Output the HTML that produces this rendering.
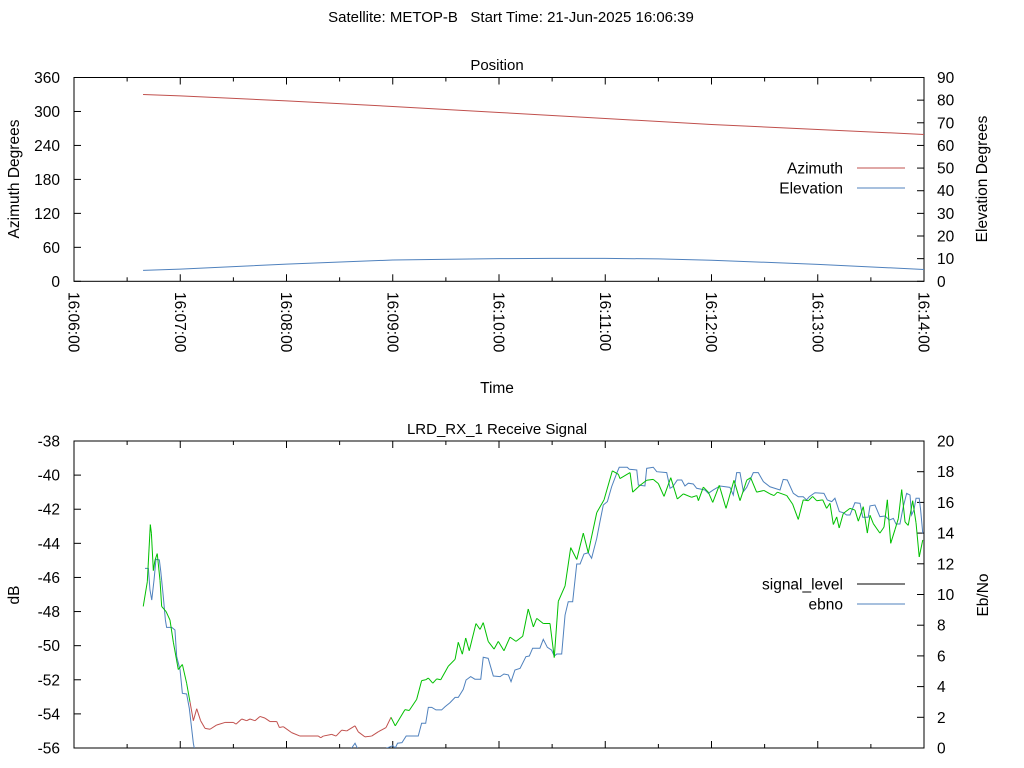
<!DOCTYPE html>
<html><head><meta charset="utf-8"><style>
html,body{margin:0;padding:0;background:#fff;}
svg{display:block;font-family:"Liberation Sans",Arial,sans-serif;}
</style></head><body>
<svg id="chart" width="1024" height="768" viewBox="0 0 1024 768" xmlns="http://www.w3.org/2000/svg">
<text x="511" y="22" font-size="15" text-anchor="middle" xml:space="preserve">Satellite: METOP-B &#160;&#160;Start Time: 21-Jun-2025 16:06:39</text>
<g id="top"></g>
<g id="bot"></g>
</svg>
<script>
// ---- Position chart data (seconds after 16:06:00) ----
const posTimes = [39, 60, 120, 180, 240, 300, 360, 420, 480];
const azimuth = [330, 327.5, 318.7, 308.8, 298.2, 287.6, 277, 268.2, 259.4];
const elevTimes = [39, 60, 120, 180, 240, 270, 300, 330, 360, 420, 480];
const elevation = [4.85, 5.4, 7.6, 9.4, 10.0, 10.1, 10.1, 9.9, 9.3, 7.5, 5.2];
const timeTickLabels = ["16:06:00","16:07:00","16:08:00","16:09:00","16:10:00","16:11:00","16:12:00","16:13:00","16:14:00"];
const azTicks = [0, 60, 120, 180, 240, 300, 360];
const elTicks = [0, 10, 20, 30, 40, 50, 60, 70, 80, 90];
// ---- Receive signal data ----
const sigTimes = [39.1,41.4,43.1,43.7,44.8,45.7,47.0,48.6,49.5,52.0,54.2,56.1,58.9,61.2,63.6,65.5,67.4,69.3,71.5,74.0,76.8,80.6,85.3,90.0,91.5,94.7,97.5,99.4,102.2,105.0,107.9,110.7,114.5,116.0,118.2,122.9,127.6,138.0,139.3,140.8,145.5,148.0,151.2,154.0,158.7,160.5,164.3,168.1,171.8,176.2,179.0,181.4,186.9,189.3,193.5,196.3,198.6,200.1,202.6,204.8,207.1,211.4,215.2,217.0,219.3,221.2,223.2,227.0,229.3,231.1,233.9,237.2,239.6,242.8,246.2,249.6,253.4,256.5,259.4,261.3,265.0,268.8,271.2,273.5,277.3,280.5,283.9,287.6,290.4,291.8,295.2,299.3,304.0,307.4,308.3,314.0,315.5,319.6,323.4,327.1,330.0,333.2,337.0,340.7,344.1,348.8,351.7,352.6,355.4,358.2,360.7,364.4,368.2,372.7,376.1,379.9,382.1,385.5,389.6,393.0,395.3,397.2,402.5,405.8,409.0,411.8,414.7,417.1,419.4,422.8,425.0,426.9,428.8,430.7,432.1,434.4,438.2,441.0,442.9,445.7,448.0,449.5,451.4,455.1,457.4,459.3,461.2,463.6,465.5,467.4,469.3,471.1,473.6,475.5,477.3,479.3];
const signalLevel = [-47.7,-46.25,-42.9,-43.4,-45.6,-45.0,-44.6,-46.2,-47.7,-48.0,-48.5,-49.8,-51.4,-51.1,-52.2,-53.3,-54.4,-53.7,-54.4,-54.85,-54.9,-54.65,-54.5,-54.5,-54.6,-54.3,-54.4,-54.3,-54.4,-54.15,-54.25,-54.45,-54.45,-54.8,-54.75,-55.1,-55.3,-55.3,-55.4,-55.3,-55.2,-55.3,-54.95,-55.0,-54.7,-55.05,-55.35,-55.3,-55.05,-54.8,-54.2,-54.7,-53.75,-53.8,-53.15,-52.05,-52.0,-51.9,-52.2,-51.95,-52.0,-51.2,-50.8,-49.8,-50.5,-49.55,-50.3,-48.7,-49.05,-48.65,-49.75,-50.2,-49.75,-50.3,-49.5,-49.75,-49.45,-47.85,-48.9,-48.4,-48.7,-48.7,-50.7,-47.4,-46.5,-44.25,-44.95,-43.4,-44.55,-43.85,-42.2,-41.45,-39.75,-39.95,-40.2,-39.85,-41.0,-40.6,-40.3,-40.25,-40.5,-41.25,-40.15,-41.4,-41.1,-41.3,-41.2,-41.5,-40.7,-41.0,-41.6,-40.6,-41.95,-40.3,-41.5,-40.3,-40.15,-41.0,-40.9,-41.1,-41.2,-41.0,-41.2,-41.7,-42.6,-41.45,-41.5,-41.25,-41.5,-41.45,-41.95,-41.65,-42.9,-42.45,-43.1,-42.25,-41.95,-42.05,-42.7,-41.85,-43.4,-42.35,-42.85,-43.4,-43.05,-41.45,-44.0,-43.2,-42.55,-40.85,-42.75,-42.95,-41.5,-42.8,-44.8,-43.8];
const lowSignalStart = 65.5;
const lowSignalEnd = 179.0;
const ebnoTimes = [40.1,42.0,42.9,43.9,45.2,46.3,48.2,49.0,50.4,51.6,52.3,55.2,57.0,58.0,59.9,61.2,63.6,65.1,66.1,67.4,68.9,99.4,150.2,156.8,158.7,160.0,162.6,175.1,176.7,180.1,181.4,182.7,185.2,187.6,194.4,196.3,198.6,200.1,202.0,204.4,207.6,209.5,212.3,215.2,217.0,219.8,221.4,224.0,226.4,229.7,231.1,233.9,236.8,240.6,242.8,245.3,246.8,249.0,251.9,255.2,257.1,259.0,263.1,265.0,267.3,269.7,271.2,272.6,275.4,277.3,279.1,281.6,283.9,285.8,288.0,290.4,292.3,295.2,297.0,298.9,301.2,303.6,306.5,307.9,312.4,313.6,317.8,318.7,322.4,323.4,327.1,329.1,334.7,336.6,338.1,340.7,343.2,345.0,346.9,349.7,351.6,356.3,358.2,361.0,364.8,370.4,372.3,374.2,376.1,378.0,379.9,383.6,386.4,389.3,393.0,398.7,400.5,402.8,406.2,409.0,411.8,413.7,415.2,418.4,423.5,425.4,427.9,429.7,432.2,434.4,436.3,438.2,441.0,443.9,445.4,448.5,449.5,452.3,455.1,458.0,460.4,462.7,464.2,466.4,468.3,470.2,472.1,473.0,474.3,475.5,477.3,478.1,479.3];
const ebno = [11.7,11.7,10.3,9.64,10.95,12.3,12.25,11.5,9.9,8.34,7.86,7.86,7.69,5.95,5.08,3.56,3.52,2.59,1.61,0.31,-0.6,-1.2,-1.0,0.0,0.31,0.0,-0.6,-0.4,0.0,0.15,0.0,0.31,0.35,0.78,0.78,1.61,1.61,2.65,2.65,2.48,2.48,2.69,2.95,3.3,3.3,3.82,4.43,4.65,4.48,4.48,5.91,5.84,4.69,4.65,4.82,4.76,4.32,5.08,5.19,5.95,5.99,6.5,6.5,7.08,6.56,6.38,5.99,6.12,6.12,8.66,9.53,9.53,11.99,11.99,12.64,12.72,12.36,13.66,14.74,15.83,16.05,17.02,17.9,18.29,18.29,18.16,18.11,17.13,17.07,18.22,18.29,18.0,17.94,16.92,17.02,17.46,17.46,17.07,17.25,17.2,16.92,16.81,16.59,16.81,17.07,16.98,16.48,17.94,17.94,16.7,16.98,17.94,17.94,17.35,17.02,16.81,17.5,17.46,16.59,16.37,16.37,16.16,16.37,16.63,16.59,16.16,16.05,16.27,15.4,15.33,15.18,15.18,15.98,15.94,15.03,15.03,15.77,15.83,15.07,15.11,14.85,14.96,14.59,14.59,15.72,16.59,16.48,15.18,15.5,16.27,16.27,15.5,13.99];
const dbTicks = [-56,-54,-52,-50,-48,-46,-44,-42,-40,-38];
const ebnoTicks = [0,2,4,6,8,10,12,14,16,18,20];

const NS = "http://www.w3.org/2000/svg";
const RED = "#c0504d", BLUE = "#4f81bd", GREEN = "#00c000";
const X0 = 74, X1 = 924, TMAX = 480;
function xs(t){ return X0 + (X1 - X0) * t / TMAX; }
function mk(parent, tag, attrs, txt){
  const e = document.createElementNS(NS, tag);
  for (const k in attrs) e.setAttribute(k, attrs[k]);
  if (txt !== undefined) e.textContent = txt;
  parent.appendChild(e);
  return e;
}
function linScale(d0, d1, r0, r1){ return v => r0 + (v - d0) * (r1 - r0) / (d1 - d0); }
function pathD(ts, vs, xf, yf){ return ts.map((t,i)=>(i?"L":"M")+xf(t).toFixed(2)+","+yf(vs[i]).toFixed(2)).join(""); }

function frame(g, top, bot, name){
  const r = mk(g, "rect", {x:X0, y:top, width:X1-X0, height:bot-top, fill:"none", stroke:"#000", "stroke-width":1});
  
  
  for (let s = 0; s <= TMAX; s += 30) {
    const major = s % 60 === 0, len = major ? 7 : 4, x = xs(s);
    const t1 = mk(g, "line", {x1:x, x2:x, y1:bot, y2:bot-len, stroke:"#000"});
    
    
    const t2 = mk(g, "line", {x1:x, x2:x, y1:top, y2:top+len, stroke:"#000"});
    
    
  }
}
function yTicks(g, ticks, sc, side, fmt){
  ticks.forEach(v => {
    const y = sc(v);
    const x = side === "left" ? X0 : X1;
    const l = mk(g, "line", {x1:x, x2: side==="left"? x+7 : x-7, y1:y, y2:y, stroke:"#000"});
    
    
    const t = mk(g, "text", {x: side==="left"? 60 : 937, y: y+5.5, "font-size":15.5, "text-anchor": side==="left"?"end":"start"}, fmt(v));
    
    
  });
}
function rotLabel(g, x, y, txt, name){
  const t = mk(g, "text", {x:x, y:y, "font-size":15.5, "text-anchor":"middle", transform:`rotate(-90 ${x} ${y})`}, txt);
  
  
}
function legend(g, y, label, color, name){
  const t = mk(g, "text", {x:843, y:y+5.5, "font-size":15.5, "text-anchor":"end"}, label);
  
  
  const l = mk(g, "line", {x1:857, x2:905, y1:y, y2:y, stroke:color, "stroke-width":1});
  
  
}

// ---- Top chart ----
(function(){
  const g = document.getElementById("top");
  const TOP = 77.5, BOT = 281.3;
  const ya = linScale(0, 360, BOT, TOP), ye = linScale(0, 90, BOT, TOP);
  const t = mk(g, "text", {x:497, y:70, "font-size":15, "text-anchor":"middle"}, "Position");
  
  
  frame(g, TOP, BOT, 'position');
  yTicks(g, azTicks, ya, "left", v=>String(v));
  yTicks(g, elTicks, ye, "right", v=>String(v));
  timeTickLabels.forEach((lab, i) => {
    const x = xs(i * 60) - 5.5, y = 292;
    const tt = mk(g, "text", {x:x, y:y, "font-size":15.5, transform:`rotate(90 ${x} ${y})`}, lab);
    
    
  });
  rotLabel(g, 19, 179, "Azimuth Degrees", "azimuth-axis-title");
  rotLabel(g, 987, 179, "Elevation Degrees", "elevation-axis-title");
  const xt = mk(g, "text", {x:497, y:393, "font-size":15.5, "text-anchor":"middle"}, "Time");
  
  
  const az = mk(g, "path", {d:pathD(posTimes, azimuth, xs, ya), fill:"none", stroke:RED, "stroke-width":1});
  
  
  const el = mk(g, "path", {d:pathD(elevTimes, elevation, xs, ye), fill:"none", stroke:BLUE, "stroke-width":1});
  
  
  legend(g, 168, "Azimuth", RED, "legend-azimuth");
  legend(g, 188, "Elevation", BLUE, "legend-elevation");
})();

// ---- Bottom chart ----
(function(){
  const g = document.getElementById("bot");
  const TOP = 441, BOT = 748;
  const yd = linScale(-56, -38, BOT, TOP), yb = linScale(0, 20, BOT, TOP);
  const t = mk(g, "text", {x:497, y:434, "font-size":15, "text-anchor":"middle"}, "LRD_RX_1 Receive Signal");
  
  
  const defs = mk(g, "defs", {});
  const cp = mk(defs, "clipPath", {id:"clipB"});
  mk(cp, "rect", {x:X0, y:TOP, width:X1-X0, height:BOT-TOP});
  frame(g, TOP, BOT, 'signal');
  yTicks(g, dbTicks, yd, "left", v=>String(v));
  yTicks(g, ebnoTicks, yb, "right", v=>String(v));
  rotLabel(g, 19, 595, "dB", "db-axis-title");
  rotLabel(g, 988, 595, "Eb/No", "ebno-axis-title");
  const cg = mk(g, "g", {"clip-path":"url(#clipB)"});
  const eb = mk(cg, "path", {d:pathD(ebnoTimes, ebno, xs, yb), fill:"none", stroke:BLUE, "stroke-width":1});
  
  
  for (let i = 1; i < sigTimes.length; i++) {
    const low = sigTimes[i] > lowSignalStart && sigTimes[i-1] < lowSignalEnd;
    const s = mk(cg, "line", {x1:xs(sigTimes[i-1]), y1:yd(signalLevel[i-1]), x2:xs(sigTimes[i]), y2:yd(signalLevel[i]), stroke: low ? RED : GREEN, "stroke-width":1});
    
    
  }
  legend(g, 584, "signal_level", "#000", "legend-signal-level");
  legend(g, 604, "ebno", BLUE, "legend-ebno");
})();
</script>
</body></html>
